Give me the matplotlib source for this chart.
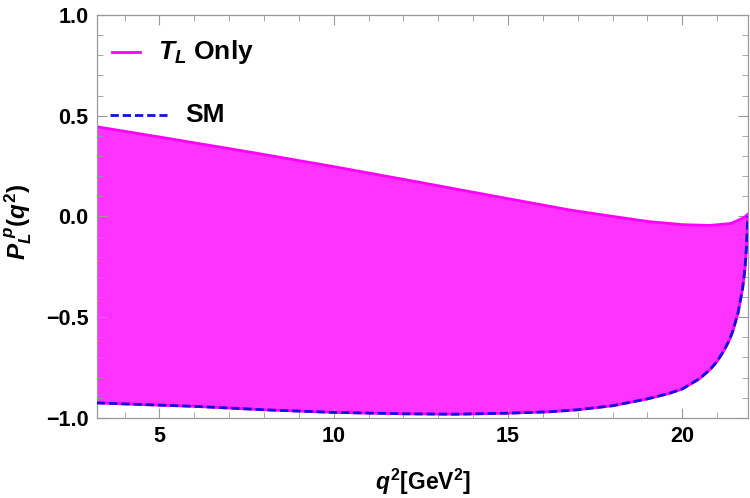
import matplotlib
matplotlib.use("Agg")
import matplotlib.pyplot as plt
from matplotlib.ticker import MultipleLocator

plt.rcParams['font.family'] = ['Liberation Sans', 'DejaVu Sans']
plt.rcParams['font.weight'] = 'bold'
plt.rcParams['mathtext.fontset'] = 'custom'
plt.rcParams['mathtext.it'] = 'Liberation Sans:bold:italic'
plt.rcParams['mathtext.rm'] = 'Liberation Sans:bold'
plt.rcParams['mathtext.bf'] = 'Liberation Sans:bold'

# q^2 grid (GeV^2)
q2_upper = [3.2, 5, 7.5, 10, 12.5, 15, 16.8, 18, 19, 20, 20.8, 21.4, 21.7, 21.8, 21.88]
tl_upper = [0.445, 0.394, 0.322, 0.247, 0.168, 0.088, 0.031, 0.0, -0.025, -0.041,
            -0.045, -0.035, -0.012, -0.002, 0.01]

# lower edge of the band = SM curve
q2_sm = [3.2, 5, 6, 8, 10, 12, 13.5, 15, 16.2, 17, 18, 19, 19.6, 20, 20.5, 20.8, 21.0,
         21.2, 21.35, 21.45, 21.6, 21.73, 21.8, 21.84, 21.88]
sm = [-0.926, -0.937, -0.943, -0.96, -0.973, -0.98, -0.982, -0.977, -0.97, -0.96,
      -0.94, -0.906, -0.88, -0.857, -0.805, -0.76, -0.72, -0.665, -0.615, -0.57,
      -0.48, -0.36, -0.26, -0.16, 0.0]

mag = '#ff00ff'
fill_col = '#ff33ff'
blue = '#1010e0'
dash = (0, (3.0, 1.4))

fig = plt.figure(figsize=(7.5, 4.98), dpi=100)
ax = fig.add_axes([0.129, 0.161, 0.868, 0.809])

# band: fill between the upper T_L curve and the SM curve
poly_x = q2_upper + q2_sm[::-1]
poly_y = tl_upper + sm[::-1]
ax.fill(poly_x, poly_y, color=fill_col, lw=0, zorder=1)
ax.plot(q2_upper, tl_upper, color=mag, lw=2, zorder=2)
ax.plot(q2_sm, sm, color=mag, lw=2, zorder=2)
ax.plot(q2_sm, sm, color=blue, lw=2.0, ls=dash, zorder=3)

ax.set_xlim(3.2, 21.88)
ax.set_ylim(-1.0, 1.0)
ax.xaxis.set_major_locator(MultipleLocator(5))
ax.xaxis.set_minor_locator(MultipleLocator(1))
ax.yaxis.set_major_locator(MultipleLocator(0.5))
ax.yaxis.set_minor_locator(MultipleLocator(0.1))
ax.set_yticks([-1.0, -0.5, 0.0, 0.5, 1.0])
ax.set_yticklabels(['\u22121.0', '\u22120.5', '0.0', '0.5', '1.0'])
ax.tick_params(which='both', direction='in', color='#999999', top=True, right=True,
               labelsize=15.5, pad=6)
ax.tick_params(which='major', length=7, width=0.8)
ax.tick_params(which='minor', length=4, width=0.6)
for s in ax.spines.values():
    s.set_color('#999999')
    s.set_linewidth(0.9)

ax.set_xlabel(r'$q^2$[GeV$^2$]', fontsize=16.5, fontweight='bold')
ax.xaxis.set_label_coords(0.501, -0.122)
ax.xaxis.label.set_va('top')
ax.set_ylabel(r'$P_L^{\ p}(q^2)$', fontsize=17.5, fontweight='bold')
ax.yaxis.label.set_va('center')
ax.yaxis.set_label_coords(-0.12, 0.486)

# legend drawn in axes fraction
ax.plot([0.0235, 0.0665], [0.908, 0.908], color=mag, lw=2, transform=ax.transAxes)
ax.text(0.094, 0.908, r'$T_L$ Only', transform=ax.transAxes, fontsize=19,
        fontweight='bold', va='center', ha='left')
ax.plot([0.0204, 0.108], [0.752, 0.752], color=blue, lw=2.0, ls=dash,
        transform=ax.transAxes)
ax.text(0.136, 0.752, 'SM', transform=ax.transAxes, fontsize=19,
        fontweight='bold', va='center', ha='left')

fig.savefig('out.png', dpi=100)
